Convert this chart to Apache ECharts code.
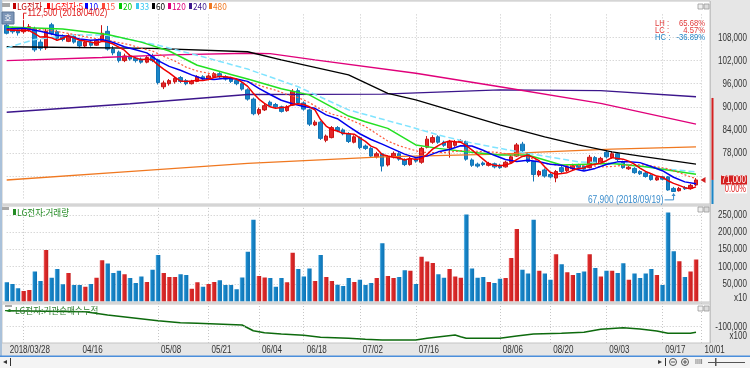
<!DOCTYPE html>
<html><head><meta charset="utf-8"><title>LG전자</title>
<script src="https://cdn.jsdelivr.net/npm/echarts@6.0.0/dist/echarts.min.js"></script>
<style>html,body{margin:0;padding:0;background:#e6e6e6}#chart{width:750px;height:368px}</style>
</head><body><div id="chart"></div><script>
// ---------------- data (prices in thousand KRW) ----------------
const dates = [
'2018/03/28','2018/03/29','2018/03/30',
'2018/04/02','2018/04/03','2018/04/04','2018/04/05','2018/04/06','2018/04/09','2018/04/10','2018/04/11','2018/04/12','2018/04/13','2018/04/16','2018/04/17','2018/04/18','2018/04/19','2018/04/20','2018/04/23','2018/04/24','2018/04/25','2018/04/26','2018/04/27','2018/04/30',
'2018/05/02','2018/05/03','2018/05/04','2018/05/08','2018/05/09','2018/05/10','2018/05/11','2018/05/14','2018/05/15','2018/05/16','2018/05/17','2018/05/18','2018/05/21','2018/05/23','2018/05/24','2018/05/25','2018/05/28','2018/05/29','2018/05/30','2018/05/31',
'2018/06/01','2018/06/04','2018/06/05','2018/06/07','2018/06/08','2018/06/11','2018/06/12','2018/06/14','2018/06/15','2018/06/18','2018/06/19','2018/06/20','2018/06/21','2018/06/22','2018/06/25','2018/06/26','2018/06/27','2018/06/28','2018/06/29',
'2018/07/02','2018/07/03','2018/07/04','2018/07/05','2018/07/06','2018/07/09','2018/07/10','2018/07/11','2018/07/12','2018/07/13','2018/07/16','2018/07/17','2018/07/18','2018/07/19','2018/07/20','2018/07/23','2018/07/24','2018/07/25','2018/07/26','2018/07/27','2018/07/30','2018/07/31',
'2018/08/01','2018/08/02','2018/08/03','2018/08/06','2018/08/07','2018/08/08','2018/08/09','2018/08/10','2018/08/13','2018/08/14','2018/08/16','2018/08/17','2018/08/20','2018/08/21','2018/08/22','2018/08/23','2018/08/24','2018/08/27','2018/08/28','2018/08/29','2018/08/30','2018/08/31',
'2018/09/03','2018/09/04','2018/09/05','2018/09/06','2018/09/07','2018/09/10','2018/09/11','2018/09/12','2018/09/13','2018/09/14','2018/09/17','2018/09/18','2018/09/19','2018/09/20','2018/09/21','2018/09/27','2018/09/28',
'2018/10/01'];
const dateLabelIdx = [0,13,27,36,45,53,63,73,88,97,107,117,124];
const dateGridIdx  = [3,27,36,45,53,63,73,88,97,107,117,124];
const priceTickLabels = [78,84,90,96,102,108];
const volumeTickLabels = [50,100,150,200,250];
const cumTickLabels = [-100];

const opens = [111.2,110.2,110.0,109.5,110.0,110.3,106.8,105.3,111.3,109.5,108.2,107.0,108.3,107.0,105.8,106.8,106.0,107.2,109.6,105.0,
104.2,102.0,103.2,102.6,102.4,101.6,103.0,102.2,95.2,96.0,96.5,97.6,96.8,96.0,96.6,97.8,97.2,97.8,98.6,97.8,
97.4,96.8,96.0,94.4,92.0,88.3,89.2,91.2,90.6,90.0,89.0,90.4,94.2,91.0,89.2,85.3,86.0,81.3,82.0,84.6,
84.0,83.0,80.8,82.0,79.8,79.2,77.0,77.8,74.9,77.0,77.8,76.2,75.0,76.5,75.6,79.5,80.8,82.2,80.8,79.3,
80.0,80.9,81.0,76.2,75.1,75.4,74.8,75.2,74.8,74.4,75.6,77.2,80.3,77.8,75.8,72.3,73.6,72.4,71.5,74.2,
73.4,73.9,74.8,74.6,74.2,76.8,75.4,78.2,76.8,77.8,75.6,73.9,74.0,73.2,72.8,72.2,71.0,71.8,71.8,68.8,
68.2,69.0,68.8,69.7];
const closes = [109.1,109.5,109.2,110.5,110.8,104.8,105.2,109.6,109.0,107.8,107.5,108.5,106.8,105.8,106.8,106.0,107.2,109.1,105.0,104.0,
102.0,103.2,102.4,102.0,101.6,102.8,102.0,96.3,96.2,96.8,97.4,96.6,96.0,96.6,97.8,97.2,98.0,98.6,97.8,97.2,
96.6,96.0,94.6,92.0,88.2,89.3,90.3,90.4,90.0,88.8,90.0,94.0,91.0,89.4,85.5,86.0,81.8,82.4,84.6,83.8,
83.0,81.0,82.2,79.4,79.2,77.2,77.8,74.6,77.0,77.9,76.4,75.0,76.5,75.9,79.2,81.6,82.0,80.8,80.0,80.9,
80.9,81.2,76.4,74.8,74.6,75.0,75.3,74.4,74.2,75.6,77.0,80.1,78.6,75.8,72.4,73.2,72.0,71.8,73.2,73.2,
74.4,74.8,74.3,73.8,76.9,75.5,76.6,77.0,77.8,76.3,74.2,74.3,72.9,72.6,71.9,71.1,71.6,71.2,68.4,68.0,
68.8,68.7,69.6,71.0];
const lows = [108.8,109.0,108.5,109.0,109.5,104.3,104.6,104.8,108.6,107.2,107.0,106.8,106.4,105.2,105.5,105.6,105.8,107.0,104.6,103.4,
101.5,101.6,102.0,101.5,101.2,101.3,101.6,95.8,94.6,95.5,96.0,96.2,95.6,95.8,96.4,96.8,96.9,97.5,97.4,96.8,
96.2,95.6,94.2,91.6,87.8,87.8,88.9,90.0,89.7,88.5,88.7,90.2,90.6,89.0,85.0,85.0,81.4,80.8,81.8,83.4,
82.6,80.6,80.5,79.0,78.8,76.8,76.6,73.2,74.5,76.6,76.0,74.6,74.7,75.5,75.2,79.2,80.4,80.4,79.6,76.8,
79.6,80.6,76.0,74.4,74.2,74.6,74.5,74.0,73.9,74.2,75.3,77.0,78.2,75.4,70.6,71.8,71.6,71.4,70.4,72.8,
73.0,73.6,74.0,73.4,74.0,75.2,75.1,76.6,76.5,75.9,73.9,73.6,72.6,72.3,71.6,70.8,70.8,70.9,68.2,67.9,
68.0,68.4,68.5,69.4];
const highs = [111.8,110.8,110.5,112.5,111.5,110.8,107.5,110.2,111.8,110.0,108.8,109.0,108.6,107.4,107.2,107.2,107.6,111.2,111.0,105.8,
104.6,103.8,103.6,103.0,102.8,103.2,103.8,102.5,96.8,97.2,97.8,98.0,97.2,97.0,98.2,98.2,98.4,99.0,99.0,98.2,
97.8,97.2,96.4,94.8,92.4,89.8,90.8,91.6,91.0,90.3,90.4,94.6,94.8,91.4,89.5,86.5,86.3,82.8,85.0,85.0,
84.4,83.4,82.6,82.3,80.2,79.5,78.3,78.0,77.4,78.4,78.2,76.6,77.0,76.9,79.6,82.4,82.6,82.6,81.2,81.4,
81.4,81.6,81.2,76.6,75.5,75.8,75.7,75.5,75.2,76.0,77.5,80.6,80.9,78.2,76.0,73.6,74.0,72.8,73.6,74.8,
74.8,75.2,75.2,75.0,77.5,77.2,77.0,79.0,78.4,78.2,76.0,74.6,74.3,73.5,73.1,72.5,72.0,72.1,72.0,69.2,
69.2,69.4,70.0,71.5];

// volume (axis units, thousands)
const volumeK = [55,50,38,30,33,86,59,148,68,93,49,82,47,47,42,50,68,119,109,82,88,78,67,53,72,56,91,134,82,70,70,78,76,36,55,42,50,56,61,47,47,35,
69,143,236,73,69,67,42,67,55,140,93,72,95,59,134,70,59,48,44,67,56,62,47,53,67,168,73,67,70,90,88,50,129,115,111,78,68,93,72,68,251,95,
68,70,56,53,65,67,125,209,91,80,236,88,80,62,136,107,84,76,82,86,136,96,72,88,88,82,110,62,80,67,80,93,76,47,257,145,116,70,86,121];

// institutional net-buy cumulative (axis units, thousands) [dayIndex, value]
const instCumK = [[0,-68],[14,-70],[18,-76.6],[27,-88],[31,-92],[34,-93.2],[42,-96.6],[44,-108],[46,-112],[49,-114.6],[53,-117.2],[56,-121.2],
[61,-123.2],[64,-125.2],[67,-126.6],[73,-126.6],[75,-123.2],[80,-116.6],[81,-120],[82,-123.2],[88,-123.2],[91,-118.6],[94,-114.6],[99,-113.2],
[103,-111.2],[106,-105.2],[110,-102],[113,-104.6],[116,-108.6],[118,-113.2],[122,-113.2],[123,-111.2]];

// moving averages (thousand KRW)
const ma5 = [110.0,109.9,109.8,109.9,109.8,109.0,108.1,108.2,107.9,107.3,107.8,108.5,107.9,107.3,107.1,106.8,106.5,107.0,106.8,106.3,
105.5,104.7,103.3,102.7,102.2,102.4,102.2,100.9,99.8,98.8,97.7,96.7,96.6,96.7,96.9,96.8,97.1,97.6,97.9,97.8,
97.6,97.2,96.4,95.3,93.5,92.0,90.9,90.0,89.6,89.8,89.9,90.6,90.8,90.6,90.0,89.2,86.7,85.0,84.1,83.7,
83.1,83.0,82.9,81.9,81.0,79.8,79.2,77.6,77.2,76.9,76.7,76.2,76.6,76.3,76.6,77.6,79.0,79.9,80.7,81.1,
80.9,80.8,79.9,78.8,77.6,76.4,75.2,74.8,74.7,74.9,75.3,76.3,77.1,77.4,76.8,76.0,74.4,73.0,72.5,72.7,
72.9,73.5,74.0,74.1,74.8,75.1,75.4,76.0,76.8,76.6,76.4,75.9,75.1,74.1,73.2,72.6,72.0,71.7,70.8,70.1,
69.6,69.0,68.7,69.2];
const ma10 = [[0,110.2],[3,110.4],[6,109.6],[9,108.6],[11,108.3],[13,107.6],[15,107.3],[17,107.5],[19,106.7],[21,105.6],[23,104.8],[25,104.0],
[27,102.0],[29,100.5],[31,99.5],[33,98.3],[35,97.3],[37,97.1],[39,97.4],[41,97.2],[43,96.6],[45,94.8],[47,93.2],[49,91.7],[51,90.8],[53,90.1],
[55,89.6],[57,87.9],[59,86.9],[61,84.9],[63,83.0],[65,81.5],[67,80.3],[69,79.0],[71,77.7],[73,76.8],[75,77.2],[77,78.3],[79,78.9],[81,79.9],
[83,79.8],[85,78.7],[87,77.4],[89,76.3],[91,75.8],[93,76.1],[95,75.7],[97,75.1],[99,74.8],[101,74.0],[103,73.3],[105,74.0],[107,75.0],[109,75.7],
[111,75.7],[113,75.5],[115,74.5],[117,73.4],[119,71.7],[121,70.5],[123,70.0]];
const ma15 = [[0,110.0],[4,110.3],[8,109.8],[12,108.8],[14,108.2],[16,107.7],[18,107.3],[20,106.7],[22,106.1],[24,105.2],[26,104.5],[28,103.1],
[30,101.9],[32,100.3],[34,99.3],[36,98.7],[38,98.1],[40,97.4],[42,96.9],[44,96.1],[46,95.1],[48,94.3],[50,93.2],[52,92.4],[54,91.1],[56,89.4],
[58,88.1],[60,87.4],[62,86.2],[64,84.9],[66,83.0],[68,81.1],[70,79.9],[72,79.0],[74,78.2],[76,78.1],[78,78.1],[80,78.4],[82,78.8],[84,78.4],
[86,78.3],[88,78.1],[90,77.5],[92,77.3],[94,76.4],[96,75.3],[98,74.9],[100,74.7],[102,74.7],[104,74.8],[106,74.4],[108,74.5],[110,74.8],
[112,75.0],[114,74.9],[116,74.4],[118,73.9],[120,72.9],[122,71.8],[123,71.4]];
const ma20 = [[0,110.7],[10,110.2],[18,108.8],[24,106.8],[29,104.5],[34,100.8],[40,98.4],[43,97.2],[49,94.7],[54,93.1],[61,87.6],[64,86.1],
[68,84.4],[73,80.1],[77,79.2],[82,78.3],[88,77.5],[93,77.5],[99,74.9],[108,75.3],[114,74.4],[123,72.5]];
const ma33 = [[0,105.3],[5,107.5],[12,108.7],[18,108.6],[27,106.0],[35,103.0],[43,99.8],[52,95.2],[61,89.2],[72,84.8],[77,82.7],[82,80.9],
[88,79.2],[93,77.9],[102,75.7],[109,75.3],[118,73.8],[123,73.1]];
const ma60 = [[0,105.6],[26,105.2],[43,104.3],[49,102.2],[61,98.3],[68,93.5],[73,91.8],[79,89.2],[88,85.3],[96,82.2],[102,80.1],[108,78.3],[114,77.0],[123,75.1]];
const ma120 = [[0,102.0],[17,102.8],[29,103.5],[43,103.9],[47,103.8],[55,102.2],[73,98.7],[88,95.2],[106,90.9],[123,85.5]];
const ma240 = [[0,88.6],[22,90.8],[43,93.2],[67,93.3],[88,94.4],[106,94.2],[123,92.6]];
const ma480 = [[0,71.0],[21,73.1],[43,75.3],[67,77.0],[88,77.7],[96,78.3],[108,79.0],[123,79.6]];

const highMark = {idx:3, value:112.5, text:'112,500 (2018/04/02)'};
const lowMark  = {idx:119, value:67.9, text:'67,900 (2018/09/19)'};
const lastPrice = 71.0;
const barTopPrice = 92.3;
const stats = [['LH :','65.68%','#e03a3a'],['LC :','4.57%','#e03a3a'],['HC :','-36.89%','#2585c5']];
const legendItems = [['LG전자','#c00000','#c00000'],['LG전자:5','#ff0000','#ff0000'],['10','#0000ff','#0000ff'],['15','#ff4a3a','#ff4a3a'],
['20','#00c800','#00c800'],['33','#38c8f0','#38c8f0'],['60','#000000','#000000'],['120','#e0007a','#e0007a'],['240','#3c168c','#3c168c'],['480','#f07820','#f07820']];
const legendX = [13,47,85,102,119,136,152,168,189,209];

// ---------------- chart ----------------
const SANS = "'Liberation Sans',Arial,sans-serif";
const KR = "'Noto Sans CJK KR','Noto Sans',sans-serif";
const chart = echarts.init(document.getElementById('chart'), null, {renderer:'canvas', width:750, height:368});

const candleData = opens.map((o,i)=>[o, closes[i], lows[i], highs[i]]);
const upGrad = {type:'linear',x:0,y:0,x2:1,y2:0,colorStops:[{offset:0,color:'#f59a9a'},{offset:0.25,color:'#de2c2c'},{offset:1,color:'#c61d1d'}]};
const dnGrad = {type:'linear',x:0,y:0,x2:1,y2:0,colorStops:[{offset:0,color:'#86c9ef'},{offset:0.25,color:'#1a88ca'},{offset:1,color:'#0c72b4'}]};
const volData = volumeK.map((v,i)=>({value:v, itemStyle:{color: closes[i]>=opens[i]?upGrad:dnGrad}}));

const GL = 6.7, GW = 694.9;
const gridLine = {color:'#c6c6c6', type:[1,2], width:1};
function xAx(gi){
  return {type:'category', gridIndex:gi, data:dates, boundaryGap:false,
    axisLine:{show:false}, axisTick:{show:false}, axisLabel:{show:false},
    splitLine:{show:true, interval:(i)=>dateGridIdx.includes(i), lineStyle:gridLine}};
}
function maLine(data, color, width, type){
  return {type:'line', xAxisIndex:0, yAxisIndex:0, data, symbol:'none', clip:false, silent:true,
    lineStyle:{color, width, type: type||'solid'}, z:3, animation:false};
}

chart.setOption({
  animation:false,
  backgroundColor:'#e6e6e6',
  grid:[{left:GL,width:GW,top:14.4,height:184.8},{left:GL,width:GW,top:207.88,height:93.42},{left:GL,width:GW,top:303,height:40}],
  xAxis:[xAx(0), xAx(1), xAx(2)],
  yAxis:[
    {type:'value', gridIndex:0, position:'right', min:66, max:114, interval:6,
     axisLine:{show:false}, axisTick:{show:false}, axisLabel:{show:false},
     splitLine:{show:true, lineStyle:gridLine, showMinLine:false, showMaxLine:false}},
    {type:'value', gridIndex:1, position:'right', min:0, max:270, interval:50,
     axisLine:{show:false}, axisTick:{show:false}, axisLabel:{show:false},
     splitLine:{show:true, lineStyle:gridLine, showMinLine:false, showMaxLine:false}},
    {type:'value', gridIndex:2, position:'right', min:-132.6, max:-52.6,
     axisLine:{show:false}, axisTick:{show:false}, axisLabel:{show:false}, splitLine:{show:false}}
  ],
  series:[
    {type:'candlestick', xAxisIndex:0, yAxisIndex:0, data:candleData, barWidth:4, clip:false, silent:true, z:2,
     itemStyle:{color:'#e4262a', color0:'#1985c7', borderColor:'#c81414', borderColor0:'#1274b6', borderWidth:1}},
    maLine(ma480,'#f07820',1.4),
    maLine(ma240,'#3c168c',1.4),
    maLine(ma120,'#e0007a',1.4),
    maLine(ma60,'#000000',1.3),
    maLine(ma33,'#80e4ff',1.5,[6,3]),
    maLine(ma20,'#22e022',1.5),
    maLine(ma15,'#ff5a3c',1.2,[2,2]),
    maLine(ma10,'#0000ee',1.5),
    maLine(ma5,'#ee0000',1.5),
    {type:'bar', xAxisIndex:1, yAxisIndex:1, data:volData, barWidth:4.6, silent:true},
    {type:'line', xAxisIndex:2, yAxisIndex:2, data:instCumK, symbol:'none', silent:true, clip:false,
     lineStyle:{color:'#0d6a0d', width:1.6},
     markLine:{silent:true, symbol:'none', label:{show:false}, lineStyle:gridLine, data:[{yAxis:-100}]}}
  ]
});

// ---------------- decorations ----------------
const g = [];
function txt(x, y, text, fill, size, align, sx, fam, z){
  return {type:'text', z:z||100, x:x, y:y, scaleX:sx||1, scaleY:1,
    style:{x:0, y:0, text:text, fill:fill, font:size+'px '+(fam||SANS), align:align||'left', verticalAlign:'middle'}};
}
const fmt = (v)=> Math.round(v*1000).toLocaleString('en-US');
// panel backgrounds
g.push({type:'rect', z:-10, shape:{x:2,y:1,width:708,height:203}, style:{fill:'#ffffff', stroke:'#c4c4c4', lineWidth:1}});
g.push({type:'rect', z:-10, shape:{x:2,y:206,width:708,height:96}, style:{fill:'#ffffff', stroke:'#c4c4c4', lineWidth:1}});
g.push({type:'rect', z:-10, shape:{x:2,y:304,width:708,height:39}, style:{fill:'#ffffff', stroke:'#c4c4c4', lineWidth:1}});
g.push({type:'rect', z:-10, shape:{x:0,y:0,width:2,height:356}, style:{fill:'#a9c1da'}});
g.push({type:'rect', z:50, shape:{x:0,y:356,width:750,height:12}, style:{fill:'#f4f4f4'}});
g.push({type:'rect', z:51, shape:{x:0,y:355.5,width:750,height:1.5}, style:{fill:'#4a8edb'}});
// bottom controls
g.push(txt(3, 362, '◂', '#333', 8, 'left', 1, 'sans-serif', 52));
g.push({type:'rect', z:52, shape:{x:10,y:358,width:1,height:8}, style:{fill:'#333'}});
g.push(txt(658, 362, '▸', '#333', 8, 'left', 1, 'sans-serif', 52));
g.push({type:'rect', z:52, shape:{x:665,y:358,width:1,height:8}, style:{fill:'#333'}});
g.push({type:'circle', z:52, shape:{cx:673,cy:362,r:3.5}, style:{fill:'none', stroke:'#555', lineWidth:1}});
g.push({type:'rect', z:52, shape:{x:671,y:361.5,width:4,height:1}, style:{fill:'#555'}});
g.push({type:'circle', z:52, shape:{cx:685,cy:362,r:3.5}, style:{fill:'none', stroke:'#555', lineWidth:1}});
g.push({type:'rect', z:52, shape:{x:683,y:361.5,width:4,height:1}, style:{fill:'#555'}});
g.push({type:'rect', z:52, shape:{x:684.5,y:360,width:1,height:4}, style:{fill:'#555'}});
g.push(txt(695, 362, 'IIII', '#555', 7, 'left', 1, 'sans-serif', 52));
g.push({type:'rect', z:52, shape:{x:708,y:362,width:37,height:1}, style:{fill:'#555'}});
g.push({type:'rect', z:52, shape:{x:715,y:358,width:1.5,height:8}, style:{fill:'#555'}});
// main legend
g.push({type:'rect', z:100, shape:{x:2,y:3,width:8,height:4}, style:{fill:'#a8a8a8'}});
legendItems.forEach((it,k)=>{
  const x = legendX[k];
  g.push({type:'rect', z:100, shape:{x:x,y:3,width:3,height:6}, style:{fill:it[1]}});
  g.push(txt(x+4, 6.5, it[0], it[2], 9, 'left', 0.92, KR));
});
// 호 icon
g.push({type:'rect', z:100, shape:{x:2,y:12,width:12,height:12}, style:{fill:'#7d96b8', stroke:'#5a7496', lineWidth:1}});
g.push(txt(8, 18, '호', '#ffffff', 8, 'center', 1, KR, 101));
// stats
stats.forEach((s,k)=>{
  const y = 24 + k*7;
  g.push(txt(655, y, s[0], s[2], 9, 'left', 0.85));
  g.push(txt(705, y, s[1], s[2], 9, 'right', 0.85));
});
// panel corner icons
[4,207,306].forEach(y=>{
  g.push({type:'rect', z:100, shape:{x:698,y:y,width:5,height:5}, style:{fill:'#f0f0f0', stroke:'#9a9a9a', lineWidth:0.8}});
  g.push({type:'rect', z:100, shape:{x:704,y:y,width:5,height:5}, style:{fill:'#dcdcdc', stroke:'#9a9a9a', lineWidth:0.8}});
});
// volume legend
g.push({type:'rect', z:100, shape:{x:2,y:207,width:7,height:3}, style:{fill:'#a8a8a8'}});
g.push({type:'rect', z:100, shape:{x:13,y:209,width:3,height:6}, style:{fill:'#238b23'}});
g.push(txt(17, 212.5, 'LG전자:거래량', '#238b23', 9, 'left', 0.95, KR));
// cumulative legend
g.push({type:'rect', z:100, shape:{x:5,y:305,width:7,height:2}, style:{fill:'#a8a8a8'}});
g.push({type:'rect', z:100, shape:{x:5,y:310,width:9,height:1.2}, style:{fill:'#1d7a1d'}});
g.push({type:'circle', z:100, shape:{cx:9.5,cy:310.6,r:1.5}, style:{fill:'#1d7a1d'}});
g.push(txt(15, 310.5, 'LG전자:기관순매수누적', '#2c7d2c', 9, 'left', 0.95, KR));
// axis labels (positions from the chart scales)
priceTickLabels.forEach(v=>{
  const y = chart.convertToPixel({yAxisIndex:0}, v);
  g.push(txt(747, y, fmt(v), '#333', 11, 'right', 0.73));
});
volumeTickLabels.forEach(v=>{
  const y = chart.convertToPixel({yAxisIndex:1}, v);
  g.push(txt(747, y, fmt(v), '#333', 11, 'right', 0.73));
});
cumTickLabels.forEach(v=>{
  const y = chart.convertToPixel({yAxisIndex:2}, v);
  g.push(txt(747, y, fmt(v), '#333', 11, 'right', 0.73));
});
g.push(txt(747, 298, 'x10', '#333', 11, 'right', 0.73));
g.push(txt(747, 336, 'x100', '#333', 11, 'right', 0.73));
dateLabelIdx.forEach(i=>{
  const x = chart.convertToPixel({xAxisIndex:2}, dates[i]);
  g.push(txt(x+3, 350, i===0 ? dates[i] : dates[i].slice(5), '#333', 11, 'left', 0.73));
});
// right border
g.push({type:'rect', z:-9, shape:{x:710,y:1,width:1,height:342}, style:{fill:'#c4c4c4'}});

// data-driven annotations
const ph = chart.convertToPixel({xAxisIndex:0, yAxisIndex:0}, [highMark.idx, highMark.value]);
g.push({type:'polyline', z:100, shape:{points:[[ph[0], ph[1]-1],[ph[0], ph[1]-7],[ph[0]+3, ph[1]-7]]}, style:{stroke:'#e02020', lineWidth:1, fill:'none'}});
g.push(txt(ph[0]+4, ph[1]-7, highMark.text, '#e02020', 10, 'left', 0.84));
const pl = chart.convertToPixel({xAxisIndex:0, yAxisIndex:0}, [lowMark.idx, lowMark.value]);
g.push({type:'polyline', z:100, shape:{points:[[pl[0]-9, pl[1]+8],[pl[0], pl[1]+8],[pl[0], pl[1]+2]]}, style:{stroke:'#3a8ccc', lineWidth:1, fill:'none'}});
g.push({type:'polygon', z:100, shape:{points:[[pl[0]-2, pl[1]+4],[pl[0]+2, pl[1]+4],[pl[0], pl[1]+1]]}, style:{fill:'#3a8ccc'}});
g.push(txt(pl[0]-10, pl[1]+8, lowMark.text, '#3a8ccc', 10, 'right', 0.84));
// current price
const yc = chart.convertToPixel({yAxisIndex:0}, lastPrice);
const yt = chart.convertToPixel({yAxisIndex:0}, barTopPrice);
g.push({type:'rect', z:60, shape:{x:711.5,y:yt,width:2,height:yc-yt}, style:{fill:'#d42020'}});
g.push({type:'rect', z:60, shape:{x:711.5,y:yc,width:2,height:204-yc}, style:{fill:'#1a86c8'}});
g.push({type:'polygon', z:100, shape:{points:[[700.5,yc],[705.5,yc-3],[705.5,yc+3]]}, style:{fill:'#d42020'}});
g.push({type:'rect', z:100, shape:{x:721,y:yc-4.5,width:26,height:9}, style:{fill:'#d42020'}});
g.push(txt(746, yc, fmt(lastPrice), '#ffffff', 10, 'right', 0.8, SANS, 101));
g.push({type:'rect', z:100, shape:{x:725,y:yc+5.5,width:22,height:8}, style:{fill:'#ffffff'}});
g.push(txt(746, yc+9.5, '0.00%', '#e02020', 10, 'right', 0.75, SANS, 101));

chart.setOption({graphic:{elements:g}});
</script></body></html>
